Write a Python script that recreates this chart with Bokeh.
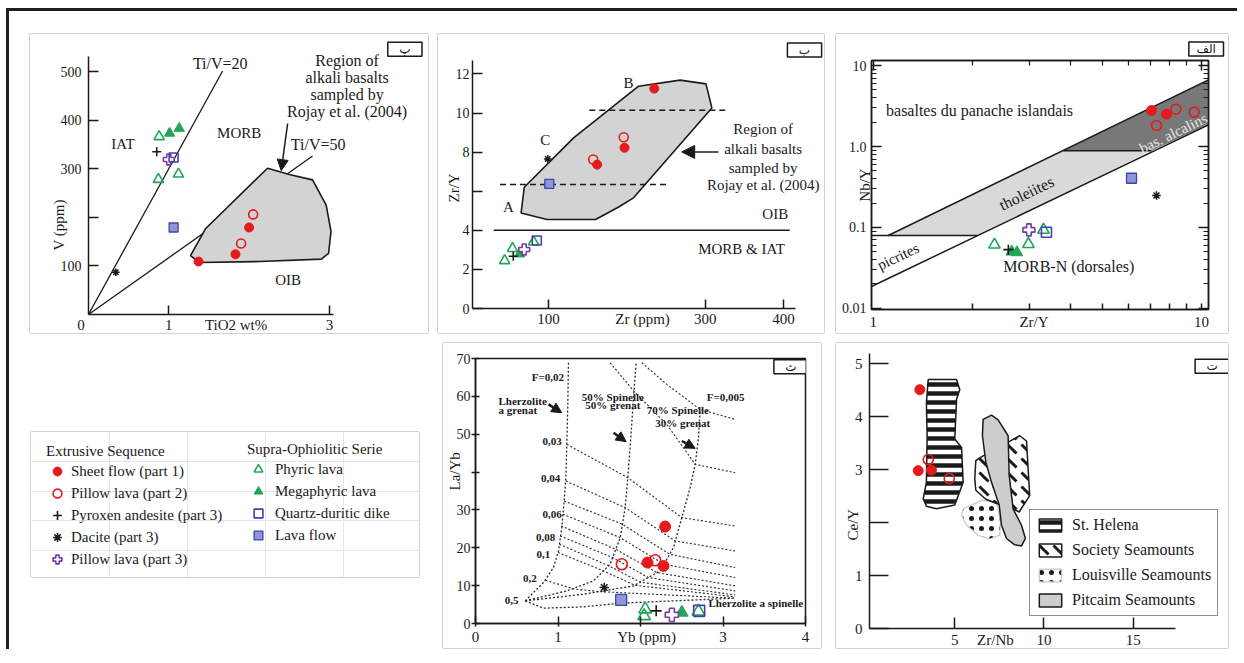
import math
from bokeh.plotting import figure
from bokeh.models import (Range1d, FixedTicker, Label, Arrow, NormalHead,
                          Legend, LegendItem, LogAxis, Title)
from bokeh.layouts import row, column
from bokeh.embed import file_html
from bokeh.resources import INLINE

# ======================= DATA =======================
# ---- Panel پ : V (ppm) vs TiO2 (wt%) ----
p1_sheet_x = [1.37, 1.83, 2.00]
p1_sheet_y = [109, 124, 179]
p1_pillow2_x = [1.90, 2.05]
p1_pillow2_y = [146, 206]
p1_pyrox_x = [0.85]
p1_pyrox_y = [335]
p1_dacite_x = [0.34]
p1_dacite_y = [87]
p1_pillow3_x = [1.00]
p1_pillow3_y = [319]
p1_phyric_x = [0.88, 0.87, 1.12]
p1_phyric_y = [366, 278, 289]
p1_mega_x = [1.01, 1.13]
p1_mega_y = [373, 383]
p1_dike_x = [1.06]
p1_dike_y = [323]
p1_lava_x = [1.06]
p1_lava_y = [179]
p1_alkali_x = [1.27, 1.46, 2.23, 2.50, 2.79, 2.96, 3.02, 2.99, 2.90, 2.13, 1.38]
p1_alkali_y = [121, 177, 301, 288, 277, 225, 171, 126, 114, 109, 107]
p1_tiv20_x = [0, 1.67]
p1_tiv20_y = [0, 501]
p1_tiv50_x = [0, 2.79]
p1_tiv50_y = [0, 326]
p1_xmarks = [1, 3]
p1_xlabels = {0: "0\u2003", 1: "1", 1.838: "TiO2 wt%", 3: "3"}
p1_yticks = [100, 200, 300, 400, 500]

# ---- Panel ب : Zr/Y vs Zr (ppm) ----
p2_sheet_x = [235, 197, 162]
p2_sheet_y = [11.25, 8.22, 7.36]
p2_pillow2_x = [196, 157]
p2_pillow2_y = [8.76, 7.62]
p2_dacite_x = [99]
p2_dacite_y = [7.65]
p2_lava_x = [101]
p2_lava_y = [6.37]
p2_dike_x = [85]
p2_dike_y = [3.48]
p2_phyric_x = [54, 44, 81]
p2_phyric_y = [3.07, 2.45, 3.40]
p2_mega_x = [63]
p2_mega_y = [2.79]
p2_pyrox_x = [55]
p2_pyrox_y = [2.67]
p2_pillow3_x = [69]
p2_pillow3_y = [3.02]
p2_alkali_x = [65, 69, 132, 215, 268, 301, 308.5, 208.5, 189, 160, 98]
p2_alkali_y = [4.89, 6.2, 8.73, 11.37, 11.68, 11.49, 10.26, 5.66, 5.18, 4.55, 4.55]
p2_oib_x = [30, 408]
p2_oib_y = [4, 4]
p2_dash_hi_x = [152, 328]
p2_dash_hi_y = [10.14, 10.14]
p2_dash_lo_x = [38, 250]
p2_dash_lo_y = [6.34, 6.34]
p2_xmarks = [100, 300, 400]
p2_xlabels = {100: "100", 220: "Zr (ppm)", 300: "300", 400: "400"}
p2_yticks = [0, 2, 4, 6, 8, 10, 12]

# ---- Panel الف : Nb/Y vs Zr/Y (log-log) ----
p3_sheet_x = [7.04, 7.82]
p3_sheet_y = [2.79, 2.51]
p3_pillow2_x = [8.35, 7.29, 9.5]
p3_pillow2_y = [2.89, 1.82, 2.66]
p3_lava_x = [6.12]
p3_lava_y = [0.405]
p3_dacite_x = [7.29]
p3_dacite_y = [0.248]
p3_dike_x = [3.37]
p3_dike_y = [0.087]
p3_phyric_x = [2.34, 2.97, 3.30]
p3_phyric_y = [0.061, 0.062, 0.093]
p3_mega_x = [2.64, 2.74]
p3_mega_y = [0.050, 0.049]
p3_pyrox_x = [2.58]
p3_pyrox_y = [0.053]
p3_pillow3_x = [2.98]
p3_pillow3_y = [0.093]
p3_thol_x = [1.111, 3.79, 7.04, 2.078]
p3_thol_y = [0.0793, 0.885, 0.885, 0.0793]
p3_alc_x = [3.79, 10.5, 10.5, 7.04]
p3_alc_y = [0.885, 6.68, 1.855, 0.885]
p3_upper_x = [1.111, 10.5]
p3_upper_y = [0.0793, 6.68]
p3_lower_x = [0.988, 10.5]
p3_lower_y = [0.01855, 1.855]
p3_h1_x = [0.988, 2.078]
p3_h1_y = [0.0793, 0.0793]
p3_h2_x = [3.79, 7.04]
p3_h2_y = [0.885, 0.885]
p3_xmarks = [2, 3, 4, 5, 6, 7, 8, 9, 10]
p3_xlabels = {1: "1", 3.089: "Zr/Y", 10: "10"}
p3_xticks = [1, 10]
p3_xminor = [2, 3, 4, 5, 6, 7, 8, 9]
p3_yticks = [0.01, 0.1, 1, 10]
p3_ylabels = {0.01: "0.01", 0.1: "0.1", 1: "1.0", 10: "10"}
p3_yminor = [0.02, 0.03, 0.04, 0.05, 0.06, 0.07, 0.08, 0.09,
             0.2, 0.3, 0.4, 0.5, 0.6, 0.7, 0.8, 0.9, 2, 3, 4, 5, 6, 7, 8, 9]

# ---- Panel ث : La/Yb vs Yb (ppm) ----
p5_sheet_x = [2.299, 2.085, 2.279]
p5_sheet_y = [25.6, 16.1, 15.2]
p5_pillow2_x = [1.774, 2.178]
p5_pillow2_y = [15.65, 16.7]
p5_dacite_x = [1.560]
p5_dacite_y = [9.5]
p5_lava_x = [1.766]
p5_lava_y = [6.24]
p5_phyric_x = [2.057, 2.044, 2.703]
p5_phyric_y = [3.78, 2.0, 3.17]
p5_mega_x = [2.501]
p5_mega_y = [2.9]
p5_pyrox_x = [2.190]
p5_pyrox_y = [3.34]
p5_pillow3_x = [2.380]
p5_pillow3_y = [2.29]
p5_dike_x = [2.711]
p5_dike_y = [3.34]
p5_curves_x = [
    [0.602, 0.824, 0.945, 1.006, 1.046, 1.075, 1.095, 1.107, 1.119, 1.127],
    [0.602, 1.107, 1.430, 1.632, 1.754, 1.814, 1.846, 1.883, 1.915, 1.947],
    [0.602, 1.309, 1.915, 2.238, 2.400, 2.501, 2.602, 2.663, 2.703, 2.723],
    [0.602, 0.824, 1.309, 1.754, 2.400, 3.147],
]
p5_curves_y = [
    [5.98, 10.82, 14.78, 19.17, 25.33, 32.37, 38.52, 47.32, 57.87, 69.3],
    [5.98, 8.62, 11.26, 15.66, 22.69, 30.61, 38.52, 49.08, 59.63, 68.87],
    [5.98, 7.74, 9.94, 13.90, 20.05, 27.97, 35.88, 42.04, 49.08, 56.55],
    [5.98, 4.05, 4.40, 5.37, 5.98, 6.68],
]
p5_iso_x = [
    [1.632, 1.927, 2.319, 2.663, 3.147],
    [2.016, 2.320, 2.723, 3.147],
    [1.107, 1.846, 2.501, 3.147],
    [1.095, 1.814, 2.420, 3.147],
    [1.075, 1.781, 2.354, 3.147],
    [1.059, 1.754, 2.284, 3.147],
    [1.038, 1.700, 2.200, 3.147],
    [1.026, 1.663, 2.094, 3.147],
    [1.017, 1.620, 2.000, 3.147],
    [1.000, 1.551, 1.930, 3.147],
    [0.850, 1.200, 1.500, 3.147],
]
p5_iso_y = [
    [68.87, 61.21, 52.59, 42.04, 39.84],
    [68.87, 63.15, 56.55, 53.91],
    [47.32, 38.52, 27.97, 25.77],
    [37.64, 30.61, 21.80, 19.17],
    [32.37, 26.21, 18.29, 14.78],
    [28.85, 22.69, 15.66, 12.14],
    [25.77, 19.60, 13.46, 9.94],
    [23.13, 17.41, 12.14, 8.62],
    [20.93, 15.20, 10.90, 7.56],
    [18.73, 13.90, 10.10, 7.04],
    [11.40, 9.10, 8.43, 6.68],
]
p5_xmarks = [0, 1, 2, 3, 4]
p5_xlabels = {0: "0", 1: "1", 2.073: "Yb (ppm)", 3: "3", 4: "4"}
p5_yticks = [0, 10, 20, 30, 40, 50, 60, 70]

# ---- Panel ت : Ce/Y vs Zr/Nb ----
p6_sheet_x = [3.04, 2.95, 3.69]
p6_sheet_y = [4.51, 2.98, 2.99]
p6_pillow2_x = [3.51, 4.69]
p6_pillow2_y = [3.19, 2.83]
p6_sthelena_x = [3.51, 5.10, 5.28, 5.10, 5.00, 5.38, 5.47, 5.00, 3.97, 3.41, 3.23, 3.41, 3.45, 3.41]
p6_sthelena_y = [4.70, 4.70, 4.51, 4.33, 3.58, 3.42, 2.76, 2.33, 2.26, 2.31, 2.45, 2.76, 3.64, 4.26]
p6_society_x = [6.18, 6.44, 8.05, 8.64, 9.02, 9.20, 8.61, 8.27, 7.34, 6.74, 6.18, 6.12]
p6_society_y = [3.17, 3.23, 3.53, 3.64, 3.54, 2.51, 2.20, 2.26, 2.36, 2.44, 2.61, 2.83]
p6_louis_x = [5.47, 6.50, 7.34, 7.56, 7.52, 6.96, 6.31, 5.66, 5.38]
p6_louis_y = [2.26, 2.42, 2.39, 2.01, 1.76, 1.69, 1.76, 1.95, 2.14]
p6_pitcairn_x = [6.59, 7.06, 7.43, 7.99, 8.05, 8.27, 8.74, 8.96, 8.74, 8.36, 7.90, 7.62, 7.49, 7.06, 6.74, 6.55]
p6_pitcairn_y = [3.95, 4.03, 3.94, 3.64, 2.89, 2.26, 1.95, 1.70, 1.56, 1.58, 1.70, 1.95, 2.33, 2.76, 3.14, 3.64]
p6_xmarks = [5, 10, 15]
p6_xlabels = {5: "5", 7.28: "Zr/Nb", 10: "10", 15: "15"}
p6_yticks = [0, 1, 2, 3, 4, 5]
p6_regions = ["St. Helena", "Society Seamounts", "Louisville Seamounts", "Pitcaim Seamounts"]

# ---- Legend ----
legend_extrusive = ["Sheet flow (part 1)", "Pillow lava (part 2)", "Pyroxen andesite (part 3)",
                    "Dacite (part 3)", "Pillow lava (part 3)"]
legend_extrusive_keys = ["sheet", "pillow2", "pyrox", "dacite", "pillow3"]
legend_supra = ["Phyric lava", "Megaphyric lava", "Quartz-duritic dike", "Lava flow"]
legend_supra_keys = ["phyric", "mega", "dike", "lava"]

# ======================= STYLE =======================
SERIF = "Liberation Serif"
ARAB = "DejaVu Sans"
INK = "#1a1a1a"
RED = "#e41a1c"
GREEN = "#22a45a"
BLUE = "#3e44a8"
BLUE_FILL = "#9094d8"
PURPLE = "#7b3aa8"
BOX = {"border": "1px solid #d2d2d2", "border-radius": "2px"}


def sample_styles(s):
    return {
        "sheet": dict(marker="circle", size=s, fill_color=RED, line_color=RED, line_width=1),
        "pillow2": dict(marker="circle", size=s, fill_color=None, line_color=RED, line_width=1.6),
        "pyrox": dict(marker="cross", size=s, line_color=INK, line_width=1.6),
        "dacite": dict(marker="asterisk", size=s * 0.85, line_color=INK, line_width=1.5),
        "pillow3": dict(marker="plus", size=s * 1.2, fill_color="white", line_color=PURPLE, line_width=1.6),
        "phyric": dict(marker="triangle", size=s * 1.15, fill_color=None, line_color=GREEN, line_width=1.6),
        "mega": dict(marker="triangle", size=s * 1.15, fill_color=GREEN, line_color=GREEN, line_width=1),
        "dike": dict(marker="square", size=s, fill_color=None, line_color=BLUE, line_width=1.6),
        "lava": dict(marker="square", size=s, fill_color=BLUE_FILL, line_color=BLUE, line_width=1.3),
    }


def make_panel(w, h, xr, yr, borders, x_type="linear", y_type="linear", outline=False):
    l, r, t, b = borders
    p = figure(width=w, height=h, x_range=Range1d(*xr), y_range=Range1d(*yr),
               x_axis_type=x_type, y_axis_type=y_type, title=None,
               output_backend="svg", toolbar_location=None, frame_align=False,
               min_border_left=l, min_border_right=r, min_border_top=t, min_border_bottom=b,
               background_fill_color="white", border_fill_color="white",
               outline_line_color=INK if outline else None, outline_line_width=1.5,
               styles=BOX)
    p.xgrid.visible = False
    p.ygrid.visible = False
    return p


def base_axis(ax, size="14px", standoff=3):
    ax.axis_line_color = INK
    ax.axis_line_width = 1.5
    ax.major_label_text_font = SERIF
    ax.major_label_text_font_size = size
    ax.major_label_text_color = INK
    ax.major_label_standoff = standoff


def style_axis(ax, ticks, tin, tout=0, minor=None, overrides=None, bounds=None,
               size="14px", standoff=3):
    base_axis(ax, size, standoff)
    ax.ticker = FixedTicker(ticks=ticks, minor_ticks=minor or [])
    ax.major_tick_line_color = INK
    ax.major_tick_line_width = 1.5
    ax.major_tick_in = tin
    ax.major_tick_out = tout
    if minor:
        ax.minor_tick_line_color = INK
        ax.minor_tick_line_width = 1.2
        ax.minor_tick_in = 5
        ax.minor_tick_out = 0
    else:
        ax.minor_tick_line_color = None
    if overrides:
        ax.major_label_overrides = overrides
    if bounds:
        ax.bounds = bounds


def style_xaxis(ax, marks, labels, tin, tout=0, bounds=None, size="14px", standoff=2):
    # labels sit on major ticks (no marks); the tick marks are drawn as minor ticks
    base_axis(ax, size, standoff)
    ax.ticker = FixedTicker(ticks=sorted(labels.keys()), minor_ticks=marks)
    ax.major_tick_line_color = None
    ax.major_tick_in = 0
    ax.major_tick_out = 0
    ax.minor_tick_line_color = INK
    ax.minor_tick_line_width = 1.5
    ax.minor_tick_in = tin
    ax.minor_tick_out = tout
    ax.major_label_overrides = labels
    if bounds:
        ax.bounds = bounds


def ytitle(p, text, offset, standoff=-19):
    p.add_layout(Title(text=text, align="left", vertical_align="bottom", offset=offset,
                       standoff=standoff, text_font=SERIF, text_font_size="15px",
                       text_font_style="normal", text_color=INK), "left")


def txt(p, x, y, s, size="15px", align="center", angle=0.0, bold=False, color=INK):
    p.add_layout(Label(x=x, y=y, text=s, text_font=SERIF, text_font_size=size,
                       text_align=align, text_baseline="middle", angle=angle,
                       text_color=color, text_font_style="bold" if bold else "normal"))


def tag(p, x, y, s):
    p.add_layout(Label(x=x, y=y, text="\u00a0\u00a0\u00a0" + s + "\u00a0\u00a0\u00a0",
                       text_font=ARAB, text_font_size="12px", text_align="center",
                       text_baseline="middle", text_color=INK,
                       border_line_color=INK, border_line_width=1.5,
                       background_fill_color="white"))


def arrow(p, x0, y0, x1, y1, head=11, width=1.5):
    p.add_layout(Arrow(end=NormalHead(size=head, fill_color=INK, line_color=INK),
                       x_start=x0, y_start=y0, x_end=x1, y_end=y1,
                       line_color=INK, line_width=width))


def draw_samples(p, series, size):
    st = sample_styles(size)
    for key, xs, ys in series:
        p.scatter(xs, ys, **st[key])


# ======================= PANEL پ =======================
p1 = make_panel(400, 301, (0, 342 / 80.3), (0, 280 / 0.486), (58, 0, 0, 21))
style_xaxis(p1.xaxis[0], p1_xmarks, p1_xlabels, tin=9, bounds=(0, 3.05), standoff=2, size="15px")
style_axis(p1.yaxis[0], p1_yticks, tin=10, overrides={200: ""}, bounds=(0, 530), standoff=7)
p1.line(p1_tiv20_x, p1_tiv20_y, line_color=INK, line_width=1.3)
p1.line(p1_tiv50_x, p1_tiv50_y, line_color=INK, line_width=1.3)
p1.patch(p1_alkali_x, p1_alkali_y, fill_color="#d3d3d3", line_color=INK, line_width=1.6)
arrow(p1, 2.48, 393, 2.40, 296)
draw_samples(p1, [("phyric", p1_phyric_x, p1_phyric_y), ("mega", p1_mega_x, p1_mega_y),
                  ("pyrox", p1_pyrox_x, p1_pyrox_y), ("pillow3", p1_pillow3_x, p1_pillow3_y),
                  ("dike", p1_dike_x, p1_dike_y), ("lava", p1_lava_x, p1_lava_y),
                  ("dacite", p1_dacite_x, p1_dacite_y), ("sheet", p1_sheet_x, p1_sheet_y),
                  ("pillow2", p1_pillow2_x, p1_pillow2_y)], 9)
txt(p1, 1.30, 517, "Ti/V=20", "16px", align="left")
for i, s in enumerate(["Region of", "alkali basalts", "sampled by", "Rojay et al. (2004)"]):
    txt(p1, 3.22, 522 - 35 * i, s, "16px")
txt(p1, 2.52, 350, "Ti/V=50", "16px", align="left")
txt(p1, 0.43, 350, "IAT", "15px")
txt(p1, 1.876, 374, "MORB", "15px")
txt(p1, 2.486, 72, "OIB", "15px")
ytitle(p1, "V (ppm)", 64)
tag(p1, 3.94, 546, "پ")

# ======================= PANEL ب =======================
p2 = make_panel(388, 301, (2.94, 2.94 + 354 / 0.7833), (0, 274 / 19.55), (34, 0, 0, 27))
style_xaxis(p2.xaxis[0], p2_xmarks, p2_xlabels, tin=9, bounds=(2.94, 415), standoff=2, size="15px")
style_axis(p2.yaxis[0], p2_yticks, tin=10, overrides={6: ""}, bounds=(0, 12.7), standoff=3)
p2.patch(p2_alkali_x, p2_alkali_y, fill_color="#d3d3d3", line_color=INK, line_width=1.6)
p2.line(p2_oib_x, p2_oib_y, line_color=INK, line_width=1.4)
p2.line(p2_dash_hi_x, p2_dash_hi_y, line_color=INK, line_width=1.4, line_dash="6 4")
p2.line(p2_dash_lo_x, p2_dash_lo_y, line_color=INK, line_width=1.4, line_dash="6 4")
arrow(p2, 317, 8.01, 270, 8.01, head=13)
draw_samples(p2, [("phyric", p2_phyric_x, p2_phyric_y), ("mega", p2_mega_x, p2_mega_y),
                  ("pyrox", p2_pyrox_x, p2_pyrox_y), ("pillow3", p2_pillow3_x, p2_pillow3_y),
                  ("dike", p2_dike_x, p2_dike_y), ("lava", p2_lava_x, p2_lava_y),
                  ("dacite", p2_dacite_x, p2_dacite_y), ("pillow2", p2_pillow2_x, p2_pillow2_y),
                  ("sheet", p2_sheet_x, p2_sheet_y)], 9)
txt(p2, 48.9, 5.18, "A", "15px")
txt(p2, 202, 11.54, "B", "15px")
txt(p2, 95.7, 8.64, "C", "15px")
for s, yy in zip(["Region of", "alkali basalts", "sampled by", "Rojay et al. (2004)"],
                 [9.16, 8.14, 7.19, 6.31]):
    txt(p2, 374, yy, s, "15px")
txt(p2, 389.4, 4.84, "OIB", "15px")
txt(p2, 346.4, 3.02, "MORB & IAT", "15px")
ytitle(p2, "Zr/Y", 106)
tag(p2, 426.8, 13.22, "ب")

# ======================= PANEL الف =======================
p3 = make_panel(394, 301, (0.988, 10.50), (0.00964, 11.58), (35, 22, 26, 26),
                x_type="log", y_type="log", outline=True)
style_xaxis(p3.xaxis[0], p3_xmarks, p3_xlabels, tin=6, standoff=4, size="15px")
style_axis(p3.yaxis[0], p3_yticks, tin=10, minor=p3_yminor, overrides=p3_ylabels, standoff=5)
p3.yaxis[0].axis_label = "Nb/Y"
p3.yaxis[0].axis_label_text_font = SERIF
p3.yaxis[0].axis_label_text_font_size = "15px"
p3.yaxis[0].axis_label_text_font_style = "normal"
p3.yaxis[0].axis_label_text_color = INK
p3.yaxis[0].axis_label_standoff = -34
ax_top = LogAxis()
style_axis(ax_top, p3_xticks, tin=10, minor=p3_xminor, overrides={1: "", 10: ""}, standoff=0, size="10px")
p3.add_layout(ax_top, "above")
ax_right = LogAxis()
style_axis(ax_right, p3_yticks, tin=10, minor=p3_yminor,
           overrides={0.01: "", 0.1: "", 1: "", 10: ""}, standoff=0, size="10px")
p3.add_layout(ax_right, "right")
p3.patch(p3_thol_x, p3_thol_y, fill_color="#d9d9d9", line_color=None)
p3.patch(p3_alc_x, p3_alc_y, fill_color="#787878", line_color=None)
p3.multi_line([p3_upper_x, p3_lower_x, p3_h1_x, p3_h2_x],
              [p3_upper_y, p3_lower_y, p3_h1_y, p3_h2_y], line_color=INK, line_width=1.5)
draw_samples(p3, [("phyric", p3_phyric_x, p3_phyric_y), ("mega", p3_mega_x, p3_mega_y),
                  ("pyrox", p3_pyrox_x, p3_pyrox_y), ("pillow3", p3_pillow3_x, p3_pillow3_y),
                  ("dike", p3_dike_x, p3_dike_y), ("lava", p3_lava_x, p3_lava_y),
                  ("dacite", p3_dacite_x, p3_dacite_y), ("sheet", p3_sheet_x, p3_sheet_y),
                  ("pillow2", p3_pillow2_x, p3_pillow2_y)], 10)
txt(p3, 2.108, 2.765, "basaltes du panache islandais", "16px")
txt(p3, 2.931, 0.2645, "tholeiites", "16px", angle=0.45)
txt(p3, 1.192, 0.0436, "picrites", "15px", angle=0.45)
txt(p3, 8.20, 1.46, "bas. alcalins", "15px", angle=0.45, color="#e6e6e6")
txt(p3, 3.94, 0.0328, "MORB-N (dorsales)", "16px")
p3.add_layout(Title(text="\u00a0\u00a0الف\u00a0\u00a0", align="right", vertical_align="middle",
                    offset=-15, standoff=7, text_font=ARAB, text_font_size="12px",
                    text_font_style="normal", text_color=INK, border_line_color=INK,
                    border_line_width=1.5, background_fill_color="white"), "above")

# ======================= PANEL ث =======================
p5 = make_panel(380, 307, (0, 4), (0, 70), (32, 18, 15, 27), outline=True)
style_xaxis(p5.xaxis[0], p5_xmarks, p5_xlabels, tin=7, tout=3, standoff=2, size="15px")
style_axis(p5.yaxis[0], p5_yticks, tin=4, tout=4, overrides={40: ""}, standoff=1)
p5.multi_line(p5_curves_x, p5_curves_y, line_color="#2a2a2a", line_width=1.3, line_dash="2 2")
p5.multi_line(p5_iso_x, p5_iso_y, line_color="#2a2a2a", line_width=1.1, line_dash="2 2")
arrow(p5, 0.885, 57.87, 1.046, 55.67, head=10, width=2.5)
arrow(p5, 1.673, 50.40, 1.826, 48.02, head=10, width=2.5)
arrow(p5, 2.501, 48.20, 2.663, 46.26, head=10, width=2.5)
draw_samples(p5, [("lava", p5_lava_x, p5_lava_y), ("dacite", p5_dacite_x, p5_dacite_y),
                  ("phyric", p5_phyric_x, p5_phyric_y), ("mega", p5_mega_x, p5_mega_y),
                  ("pyrox", p5_pyrox_x, p5_pyrox_y), ("pillow3", p5_pillow3_x, p5_pillow3_y),
                  ("dike", p5_dike_x, p5_dike_y), ("sheet", p5_sheet_x, p5_sheet_y),
                  ("pillow2", p5_pillow2_x, p5_pillow2_y)], 11)
txt(p5, 0.683, 65.1, "F=0,02", "11px", align="left", bold=True)
txt(p5, 0.279, 58.8, "Lherzolite", "11px", align="left", bold=True)
txt(p5, 0.279, 56.4, "a grenat", "11px", align="left", bold=True)
txt(p5, 1.289, 59.8, "50% Spinelle", "11px", align="left", bold=True)
txt(p5, 1.330, 57.8, "50% grenat", "11px", align="left", bold=True)
txt(p5, 2.077, 56.5, "70% Spinelle", "11px", align="left", bold=True)
txt(p5, 2.178, 53.0, "30% grenat", "11px", align="left", bold=True)
txt(p5, 2.804, 59.8, "F=0,005", "11px", align="left", bold=True)
for s, xx, yy in (("0,03", 1.046, 48.0), ("0,04", 1.026, 38.3), ("0,06", 1.046, 28.8),
                  ("0,08", 0.966, 22.7), ("0,1", 0.905, 18.3), ("0,2", 0.743, 12.0),
                  ("0,5", 0.521, 6.0)):
    txt(p5, xx, yy, s, "11px", align="right", bold=True)
txt(p5, 2.824, 5.5, "Lherzolite a spinelle", "11px", align="left", bold=True)
ytitle(p5, "La/Yb", 133)
tag(p5, 3.824, 67.8, "ث")

# ======================= PANEL ت =======================
p6 = make_panel(394, 307, (0.22, 0.22 + 361 / 17.84), (0, 287 / 53.33), (33, 0, 0, 20))
style_xaxis(p6.xaxis[0], p6_xmarks, p6_xlabels, tin=11, bounds=(0.22, 17.4), standoff=3, size="15px")
style_axis(p6.yaxis[0], p6_yticks, tin=19, overrides={2: ""}, bounds=(0, 5.2), standoff=7, size="15px")
r_lo = p6.patch(p6_louis_x, p6_louis_y, fill_color="white", line_color="#c8c8c8", line_width=1.2,
                hatch_pattern="dot", hatch_color=INK, hatch_scale=10, hatch_weight=1.2)
r_so = p6.patch(p6_society_x, p6_society_y, fill_color="white", line_color=INK, line_width=1.5,
                hatch_pattern="left_diagonal_dash", hatch_color=INK, hatch_scale=14, hatch_weight=3)
r_sh = p6.patch(p6_sthelena_x, p6_sthelena_y, fill_color="white", line_color=INK, line_width=1.5,
                hatch_pattern="horizontal_line", hatch_color=INK, hatch_scale=9, hatch_weight=4.5)
r_pi = p6.patch(p6_pitcairn_x, p6_pitcairn_y, fill_color="#cdcdcd", line_color=INK, line_width=1.5)
draw_samples(p6, [("sheet", p6_sheet_x, p6_sheet_y), ("pillow2", p6_pillow2_x, p6_pillow2_y)], 10)
leg6 = Legend(items=[LegendItem(label=p6_regions[0], renderers=[r_sh]),
                     LegendItem(label=p6_regions[1], renderers=[r_so]),
                     LegendItem(label=p6_regions[2], renderers=[r_lo]),
                     LegendItem(label=p6_regions[3], renderers=[r_pi])],
              location=(160, 12), orientation="vertical",
              label_text_font=SERIF, label_text_font_size="16px", label_text_color=INK,
              glyph_width=28, glyph_height=16, label_height=16, spacing=7, padding=6,
              margin=0, label_standoff=8, border_line_color=INK, border_line_width=1.5,
              background_fill_color="white", background_fill_alpha=1.0)
p6.add_layout(leg6)
ytitle(p6, "Ce/Y", 88)
tag(p6, 19.43, 4.95, "ت")

# ======================= LEGEND PANEL =======================
lp = figure(width=390, height=147, x_range=Range1d(0, 1), y_range=Range1d(0, 1), title=None,
            x_axis_location=None, y_axis_location=None, frame_align=False,
            min_border_left=0, min_border_right=0, min_border_top=0, min_border_bottom=0,
            outline_line_color=None, output_backend="svg", toolbar_location=None, styles=BOX)
st = sample_styles(12)
legend_src = {"sheet": (p1_sheet_x, p1_sheet_y), "pillow2": (p1_pillow2_x, p1_pillow2_y),
              "pyrox": (p1_pyrox_x, p1_pyrox_y), "dacite": (p1_dacite_x, p1_dacite_y),
              "pillow3": (p1_pillow3_x, p1_pillow3_y), "phyric": (p1_phyric_x, p1_phyric_y),
              "mega": (p1_mega_x, p1_mega_y), "dike": (p1_dike_x, p1_dike_y),
              "lava": (p1_lava_x, p1_lava_y)}


def legend_renderer(k):
    xs, ys = legend_src[k]
    return lp.scatter(xs, ys, visible=False, **st[k])


ext_items = [LegendItem(label=lab, renderers=[legend_renderer(k)])
             for lab, k in zip(legend_extrusive, legend_extrusive_keys)]
sup_items = [LegendItem(label=lab, renderers=[legend_renderer(k)])
             for lab, k in zip(legend_supra, legend_supra_keys)]
common = dict(title_text_font=SERIF, title_text_font_size="15px", title_text_font_style="normal",
              title_text_color=INK, title_standoff=0, label_text_font=SERIF,
              label_text_font_size="15px", label_text_color=INK, glyph_width=22, glyph_height=22,
              label_height=22, spacing=0, padding=0, margin=0,
              border_line_color=None, background_fill_alpha=0)
lp.add_layout(Legend(items=ext_items, title="Extrusive Sequence", location=(15, 9),
                     label_standoff=3, **common))
lp.add_layout(Legend(items=sup_items, title="Supra-Ophiolitic Serie", location=(216, 33),
                     label_standoff=6, **common))

# ======================= LAYOUT =======================
p1.margin = (22, 0, 0, 20)
lp.margin = (97, 0, 0, 21)
p2.margin = (22, 0, 0, 8)
p5.margin = (8, 0, 0, 13)
p3.margin = (22, 0, 0, 10)
p6.margin = (8, 0, 0, 10)
layout = row(column(p1, lp), column(p2, p5), column(p3, p6),
             margin=(8, 0, 0, 6),
             styles={"border-left": "3px solid #1f1f1f", "border-top": "3px solid #1f1f1f",
                     "padding-right": "8px"})

open("out.html", "w").write(file_html(layout, INLINE))
